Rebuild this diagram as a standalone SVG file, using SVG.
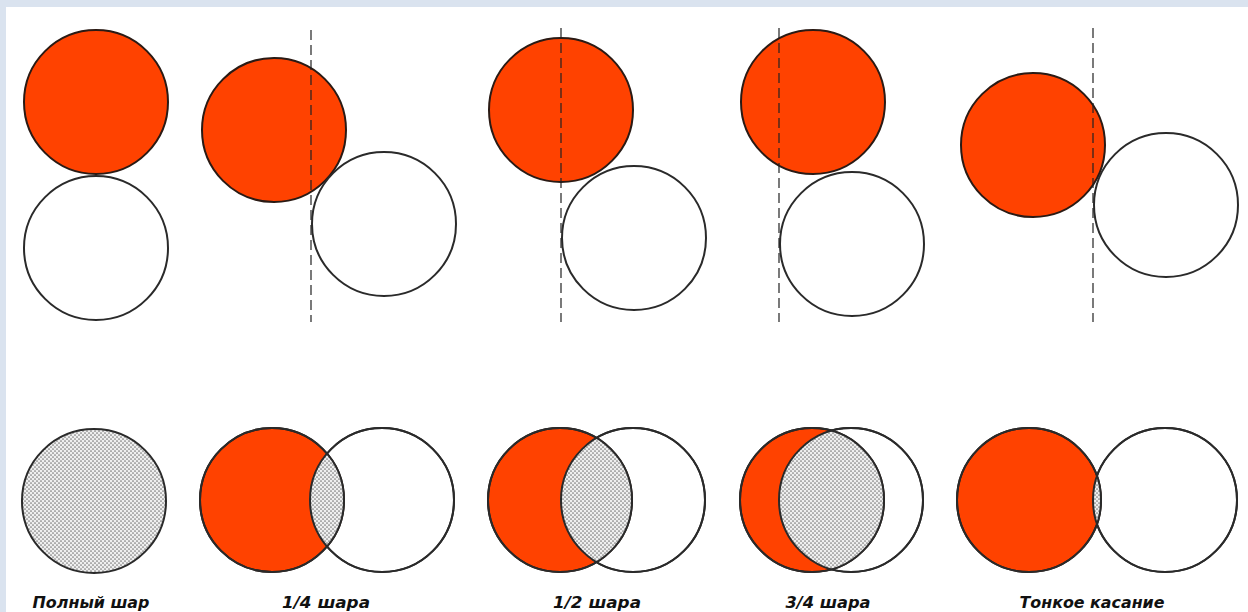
<svg xmlns="http://www.w3.org/2000/svg" width="1248" height="612" viewBox="0 0 1248 612">
<style>
.red{fill:#ff4200;stroke:#2a1a14;stroke-width:2}
.wht{fill:#fff;stroke:#2a2a2a;stroke-width:2}
.edge{fill:none;stroke:#2a2a2a;stroke-width:2}
.dot{fill:url(#dots);stroke:none}
.dash{stroke:#222;stroke-width:1.2;stroke-dasharray:10 5;fill:none}
.lbl{font-family:"DejaVu Sans",Verdana,sans-serif;font-size:15px;font-weight:bold;font-style:italic;fill:#111;text-anchor:middle}
</style>
<defs>
<pattern id="dots" patternUnits="userSpaceOnUse" width="4" height="4">
<rect width="4" height="4" fill="#efefef"/>
<circle cx="1" cy="1" r="0.85" fill="#7a7a7a"/>
<circle cx="3" cy="3" r="0.85" fill="#7a7a7a"/>
</pattern>
<clipPath id="c2"><circle cx="382" cy="500" r="72"/></clipPath>
<clipPath id="c3"><circle cx="633" cy="500" r="72"/></clipPath>
<clipPath id="c4"><circle cx="851" cy="500" r="72"/></clipPath>
<clipPath id="c5"><circle cx="1165" cy="500" r="72"/></clipPath>
</defs>
<rect x="0" y="0" width="1248" height="612" fill="#dae3ef"/>
<rect x="6" y="7" width="1242" height="605" fill="#fff"/>

<g id="top-full">
<circle class="red" cx="96" cy="102" r="72"/>
<circle class="wht" cx="96" cy="248" r="72"/>
</g>
<g id="top-quarter">
<circle class="red" cx="274" cy="130" r="72"/>
<circle class="wht" cx="384" cy="224" r="72"/>
</g>
<g id="top-half">
<circle class="red" cx="561" cy="110" r="72"/>
<circle class="wht" cx="634" cy="238" r="72"/>
</g>
<g id="top-three-quarter">
<circle class="red" cx="813" cy="102" r="72"/>
<circle class="wht" cx="852" cy="244" r="72"/>
</g>
<g id="top-thin">
<circle class="red" cx="1033" cy="145" r="72"/>
<circle class="wht" cx="1166" cy="205" r="72"/>
</g>

<g id="connectors">
<line class="dash" x1="311" y1="30" x2="311" y2="322"/>
<line class="dash" x1="561" y1="28" x2="561" y2="322"/>
<line class="dash" x1="779" y1="28" x2="779" y2="322"/>
<line class="dash" x1="1093" y1="28" x2="1093" y2="322"/>
</g>

<g id="bottom-full">
<circle class="dot" cx="94" cy="501" r="72"/>
<circle class="edge" cx="94" cy="501" r="72"/>
<text class="lbl" x="91" y="608" textLength="117" lengthAdjust="spacingAndGlyphs">Полный шар</text>
</g>
<g id="bottom-quarter">
<circle class="wht" cx="382" cy="500" r="72"/>
<circle class="red" cx="272" cy="500" r="72"/>
<circle class="dot" cx="272" cy="500" r="72" clip-path="url(#c2)"/>
<circle class="edge" cx="272" cy="500" r="72"/>
<circle class="edge" cx="382" cy="500" r="72"/>
<text class="lbl" x="326" y="608" textLength="88" lengthAdjust="spacingAndGlyphs">1/4 шара</text>
</g>
<g id="bottom-half">
<circle class="wht" cx="633" cy="500" r="72"/>
<circle class="red" cx="560" cy="500" r="72"/>
<circle class="dot" cx="560" cy="500" r="72" clip-path="url(#c3)"/>
<circle class="edge" cx="560" cy="500" r="72"/>
<circle class="edge" cx="633" cy="500" r="72"/>
<text class="lbl" x="597" y="608" textLength="88" lengthAdjust="spacingAndGlyphs">1/2 шара</text>
</g>
<g id="bottom-three-quarter">
<circle class="wht" cx="851" cy="500" r="72"/>
<circle class="red" cx="812" cy="500" r="72"/>
<circle class="dot" cx="812" cy="500" r="72" clip-path="url(#c4)"/>
<circle class="edge" cx="812" cy="500" r="72"/>
<circle class="edge" cx="851" cy="500" r="72"/>
<text class="lbl" x="828" y="608" textLength="85" lengthAdjust="spacingAndGlyphs">3/4 шара</text>
</g>
<g id="bottom-thin">
<circle class="wht" cx="1165" cy="500" r="72"/>
<circle class="red" cx="1029" cy="500" r="72"/>
<circle class="dot" cx="1029" cy="500" r="72" clip-path="url(#c5)"/>
<circle class="edge" cx="1029" cy="500" r="72"/>
<circle class="edge" cx="1165" cy="500" r="72"/>
<text class="lbl" x="1092" y="608" textLength="145" lengthAdjust="spacingAndGlyphs">Тонкое касание</text>
</g>
</svg>
